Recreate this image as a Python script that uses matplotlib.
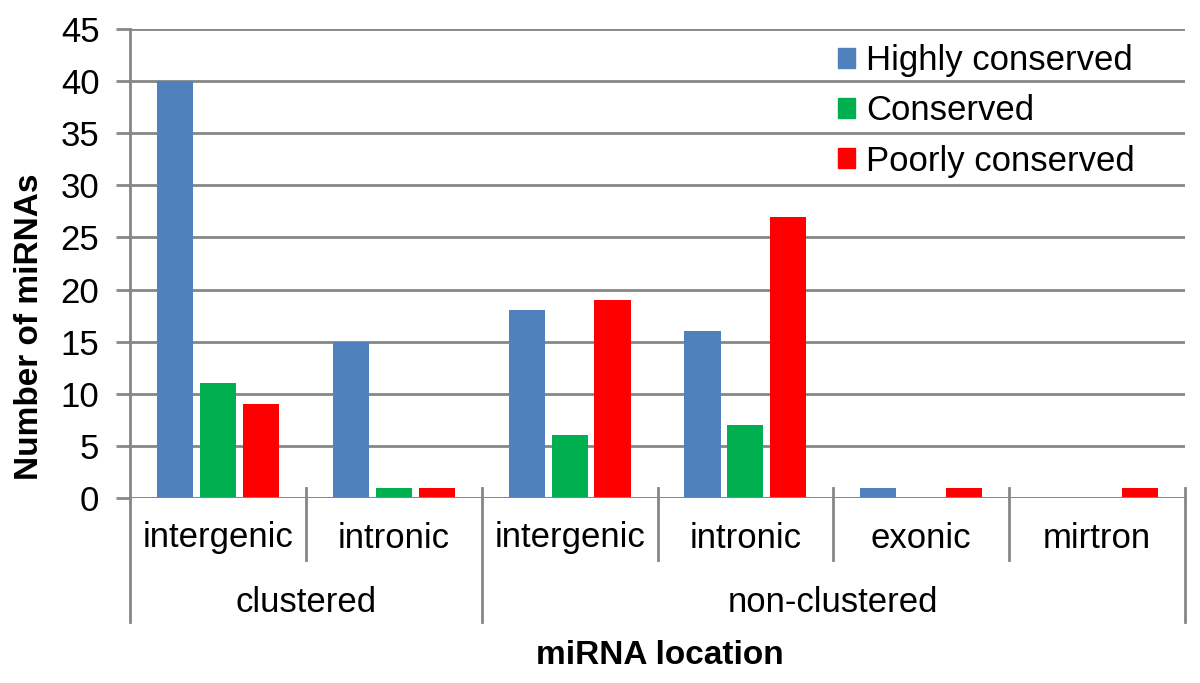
import matplotlib
matplotlib.use('Agg')
import matplotlib.pyplot as plt
from matplotlib.patches import Patch

plt.rcParams['font.family'] = ['Liberation Sans', 'DejaVu Sans']

groups = ['clustered', 'non-clustered']
group_sizes = [2, 4]
locations = ['intergenic', 'intronic', 'intergenic', 'intronic', 'exonic', 'mirtron']
series = ['Highly conserved', 'Conserved', 'Poorly conserved']
highly = [40, 15, 18, 16, 1, 0]
conserved = [11, 1, 6, 7, 0, 0]
poorly = [9, 1, 19, 27, 1, 1]
colors = ['#4F81BD', '#00B050', '#FF0000']
yticks = [0, 5, 10, 15, 20, 25, 30, 35, 40, 45]

grid_col = '#868686'
lw = 2.0
fs = 25

fig = plt.figure(figsize=(12, 6.83), dpi=100)
ax = fig.add_axes([130/1200, 1-498/683, 1055/1200, 469/683])

x = [i + 0.5 for i in range(len(locations))]
width = 0.205
step = 0.244
for k, (vals, col) in enumerate(zip([highly, conserved, poorly], colors)):
    ax.bar([xi + (k - 1) * step for xi in x], vals, width=width, color=col,
           label=series[k], zorder=3)

ax.set_xlim(0, len(locations))
ax.set_ylim(0, 45)
ax.set_yticks(yticks)
ax.tick_params(axis='y', labelsize=fs, length=10, width=lw, color=grid_col, pad=12)
ax.set_xticks([])
ax.grid(axis='y', color=grid_col, linewidth=lw, zorder=0)
for s in ['top', 'right', 'bottom']:
    ax.spines[s].set_visible(False)
ax.spines['left'].set_color(grid_col)
ax.spines['left'].set_linewidth(lw)

# category axis drawn by hand (two levels)
tr = ax.get_xaxis_transform()
h = 469.0
ax.axhline(0, color=grid_col, linewidth=lw, zorder=4)
for b in range(len(locations) + 1):
    outer = b in (0, group_sizes[0], len(locations))
    y0 = 10 / h if b > 0 else 0
    y1 = -124 / h if outer else -62 / h
    ax.plot([b, b], [y0, y1], transform=tr, color=grid_col, linewidth=lw,
            clip_on=False, zorder=4)
for xi, lab in zip(x, locations):
    ax.text(xi, -40 / h, lab, transform=tr, ha='center', va='center', fontsize=fs)
start = 0
for g, n in zip(groups, group_sizes):
    ax.text(start + n / 2, -104 / h, g, transform=tr, ha='center', va='center', fontsize=fs)
    start += n

fig.text(30/1200, 1-327/683, 'Number of miRNAs', rotation=90, ha='center', va='center',
         fontsize=24, fontweight='bold')
fig.text(660/1200, 1-655/683, 'miRNA location', ha='center', va='center',
         fontsize=24, fontweight='bold')

handles = [Patch(color=c, label=l) for c, l in zip(colors, series)]
leg = ax.legend(handles=handles, loc='upper left', bbox_to_anchor=(838/1200, 1-44/683),
                bbox_transform=fig.transFigure, frameon=False, fontsize=fs,
                handlelength=0.5, handleheight=0.5, handletextpad=0.3,
                labelspacing=0.5, borderpad=0, borderaxespad=0)

fig.savefig('out.png', dpi=100, facecolor='white')
